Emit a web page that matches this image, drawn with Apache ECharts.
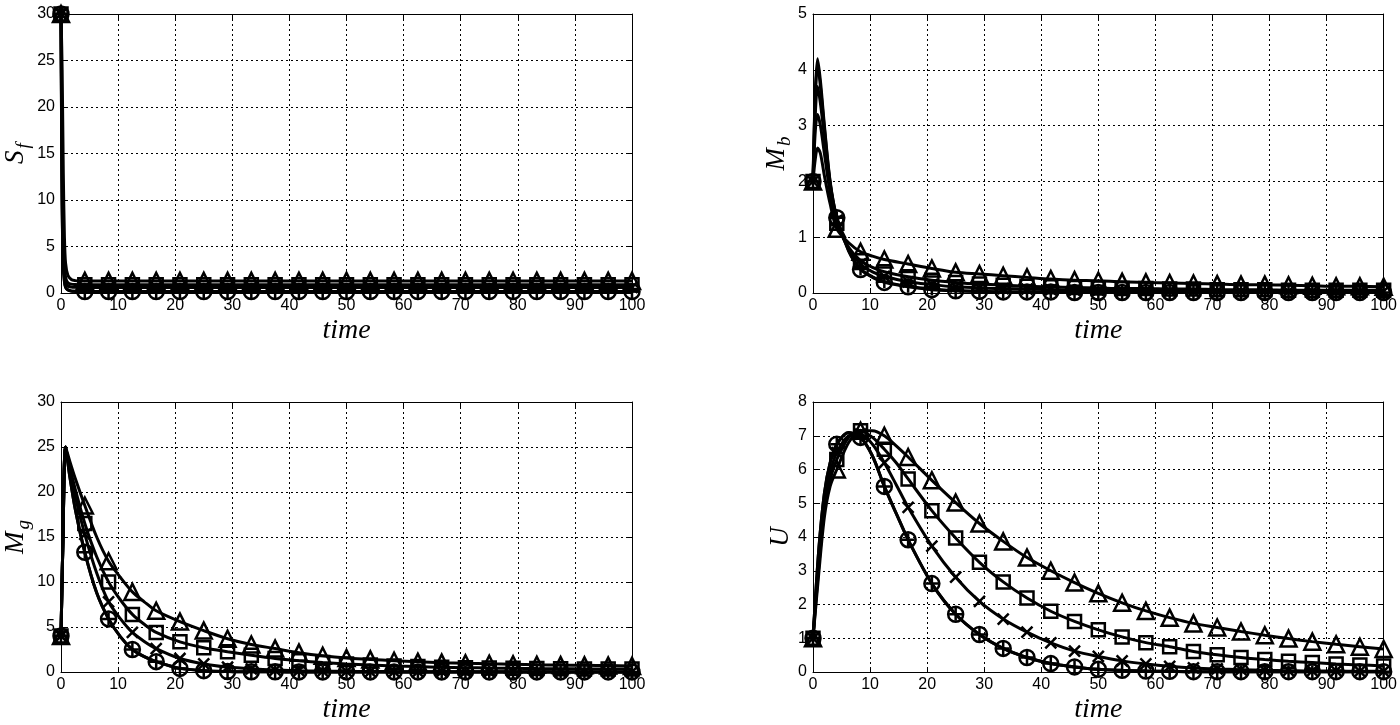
<!DOCTYPE html>
<html><head><meta charset="utf-8">
<script src="https://cdn.jsdelivr.net/npm/echarts@6/dist/echarts.min.js"></script>
<style>html,body{margin:0;padding:0;background:#fff}#c{width:1400px;height:725px}</style>
</head><body><div id="c"></div><script>
// ---------- data ----------
const xTicks = [0, 10, 20, 30, 40, 50, 60, 70, 80, 90, 100];

// S_f panel
const tSf = [0, 0.2, 0.4, 0.6, 0.8, 1.2, 1.8, 2.5, 3.2, 4.17, 8.33, 12.5, 16.67, 20.83, 25, 29.17, 33.33, 37.5, 41.67, 45.83, 50, 54.17, 58.33, 62.5, 66.67, 70.83, 75, 79.17, 83.33, 87.5, 91.67, 95.83, 100];
const sfCircle = [30, 9, 3, 1.2, 0.6, 0.32, 0.2, 0.17, 0.15, 0.15, 0.15, 0.15, 0.15, 0.15, 0.15, 0.15, 0.15, 0.15, 0.15, 0.15, 0.15, 0.15, 0.15, 0.15, 0.15, 0.15, 0.15, 0.15, 0.15, 0.15, 0.15, 0.15, 0.15];
const sfPlus = [30, 9.5, 3.2, 1.3, 0.65, 0.34, 0.21, 0.17, 0.15, 0.15, 0.15, 0.15, 0.15, 0.15, 0.15, 0.15, 0.15, 0.15, 0.15, 0.15, 0.15, 0.15, 0.15, 0.15, 0.15, 0.15, 0.15, 0.15, 0.15, 0.15, 0.15, 0.15, 0.15];
const sfCross = [30, 12, 4.5, 2, 1.1, 0.75, 0.64, 0.61, 0.6, 0.6, 0.6, 0.6, 0.6, 0.6, 0.6, 0.6, 0.6, 0.6, 0.6, 0.6, 0.6, 0.6, 0.6, 0.6, 0.6, 0.6, 0.6, 0.6, 0.6, 0.6, 0.6, 0.6, 0.6];
const sfSquare = [30, 15, 6.5, 3, 1.7, 1.1, 0.95, 0.91, 0.9, 0.9, 0.9, 0.9, 0.9, 0.9, 0.9, 0.9, 0.9, 0.9, 0.9, 0.9, 0.9, 0.9, 0.9, 0.9, 0.9, 0.9, 0.9, 0.9, 0.9, 0.9, 0.9, 0.9, 0.9];
const sfTriangle = [30, 24, 13, 6, 3.2, 1.9, 1.45, 1.33, 1.3, 1.3, 1.3, 1.3, 1.3, 1.3, 1.3, 1.3, 1.3, 1.3, 1.3, 1.3, 1.3, 1.3, 1.3, 1.3, 1.3, 1.3, 1.3, 1.3, 1.3, 1.3, 1.3, 1.3, 1.3];

// M_b panel
const tMb = [0, 0.4, 0.8, 1.3, 2, 3, 4.17, 6.25, 8.33, 10.42, 12.5, 16.67, 20.83, 25, 29.17, 33.33, 37.5, 41.67, 45.83, 50, 54.17, 58.33, 62.5, 66.67, 70.83, 75, 79.17, 83.33, 87.5, 91.67, 95.83, 100];
const mbCircle = [2, 3.6, 4.2, 3.8, 3.0, 2.0, 1.35, 0.75, 0.42, 0.28, 0.19, 0.11, 0.06, 0.04, 0.03, 0.02, 0.02, 0.02, 0.01, 0.01, 0.01, 0.01, 0.01, 0.01, 0.01, 0.01, 0.01, 0.01, 0.01, 0.01, 0.01, 0.01];
const mbPlus = [2, 3.5, 4.1, 3.7, 2.95, 1.98, 1.35, 0.76, 0.43, 0.29, 0.2, 0.12, 0.07, 0.04, 0.03, 0.02, 0.02, 0.02, 0.01, 0.01, 0.01, 0.01, 0.01, 0.01, 0.01, 0.01, 0.01, 0.01, 0.01, 0.01, 0.01, 0.01];
const mbCross = [2, 3.2, 3.7, 3.4, 2.8, 1.95, 1.3, 0.8, 0.52, 0.38, 0.3, 0.2, 0.15, 0.11, 0.09, 0.08, 0.07, 0.06, 0.05, 0.05, 0.04, 0.04, 0.04, 0.03, 0.03, 0.03, 0.03, 0.03, 0.03, 0.03, 0.03, 0.03];
const mbSquare = [2, 2.9, 3.2, 3.0, 2.5, 1.8, 1.25, 0.82, 0.58, 0.46, 0.38, 0.29, 0.23, 0.19, 0.16, 0.14, 0.12, 0.11, 0.1, 0.09, 0.08, 0.08, 0.07, 0.07, 0.06, 0.06, 0.06, 0.05, 0.05, 0.05, 0.05, 0.05];
const mbTriangle = [2, 2.4, 2.6, 2.5, 2.1, 1.6, 1.15, 0.9, 0.74, 0.66, 0.6, 0.52, 0.44, 0.37, 0.34, 0.31, 0.28, 0.25, 0.23, 0.22, 0.2, 0.19, 0.18, 0.17, 0.16, 0.15, 0.15, 0.14, 0.13, 0.12, 0.12, 0.11];

// M_g panel
const tMg = [0, 0.35, 0.8, 1.5, 2.5, 4.17, 6.25, 8.33, 10.42, 12.5, 14.58, 16.67, 20.83, 25, 29.17, 33.33, 37.5, 41.67, 45.83, 50, 54.17, 58.33, 62.5, 66.67, 70.83, 75, 79.17, 83.33, 87.5, 91.67, 95.83, 100];
const mgCircle = [4, 15, 25, 21.9, 18.1, 13.3, 8.8, 5.9, 3.9, 2.5, 1.7, 1.15, 0.4, 0.15, 0.06, 0.03, 0.02, 0.01, 0.01, 0.01, 0.01, 0.01, 0.01, 0.01, 0.01, 0.01, 0.01, 0.01, 0.01, 0.01, 0.01, 0.01];
const mgPlus = [4, 15, 25, 21.9, 18.1, 13.3, 8.8, 5.9, 3.9, 2.5, 1.7, 1.15, 0.4, 0.15, 0.06, 0.03, 0.02, 0.01, 0.01, 0.01, 0.01, 0.01, 0.01, 0.01, 0.01, 0.01, 0.01, 0.01, 0.01, 0.01, 0.01, 0.01];
const mgCross = [4, 15, 25, 22.5, 19.5, 15.3, 11, 7.8, 5.9, 4.4, 3.4, 2.6, 1.5, 0.9, 0.55, 0.35, 0.22, 0.15, 0.1, 0.07, 0.05, 0.04, 0.03, 0.03, 0.02, 0.02, 0.02, 0.02, 0.01, 0.01, 0.01, 0.01];
const mgSquare = [4, 15, 25, 22.9, 20.3, 16.5, 12.8, 10.0, 8.0, 6.4, 5.3, 4.4, 3.35, 2.7, 2.25, 1.85, 1.5, 1.25, 1.05, 0.9, 0.78, 0.68, 0.6, 0.53, 0.48, 0.44, 0.41, 0.38, 0.36, 0.34, 0.33, 0.32];
const mgTriangle = [4, 15, 25, 23.5, 21.5, 18.5, 15, 12.3, 10.5, 8.9, 7.8, 6.8, 5.6, 4.6, 3.7, 3.05, 2.6, 2.15, 1.8, 1.55, 1.4, 1.25, 1.13, 1.04, 0.97, 0.91, 0.86, 0.81, 0.77, 0.74, 0.71, 0.68];

// U panel
const tU = [0, 1, 2, 3, 4.17, 6.25, 8.33, 10.42, 12.5, 14.58, 16.67, 20.83, 25, 29.17, 33.33, 37.5, 41.67, 45.83, 50, 54.17, 58.33, 62.5, 66.67, 70.83, 75, 79.17, 83.33, 87.5, 91.67, 95.83, 100];
const uCircle = [1, 3.6, 5.3, 6.2, 6.75, 7.1, 6.95, 6.4, 5.5, 4.7, 3.92, 2.62, 1.71, 1.11, 0.7, 0.43, 0.25, 0.15, 0.08, 0.05, 0.03, 0.02, 0.01, 0.01, 0.01, 0.01, 0.01, 0.01, 0.01, 0.01, 0.01];
const uPlus = [1, 3.6, 5.3, 6.2, 6.75, 7.1, 6.95, 6.4, 5.5, 4.7, 3.92, 2.62, 1.71, 1.11, 0.7, 0.43, 0.25, 0.15, 0.08, 0.05, 0.03, 0.02, 0.01, 0.01, 0.01, 0.01, 0.01, 0.01, 0.01, 0.01, 0.01];
const uCross = [1, 3.3, 5.0, 5.9, 6.5, 7.0, 7.05, 6.75, 6.2, 5.55, 4.88, 3.73, 2.81, 2.09, 1.57, 1.18, 0.86, 0.62, 0.46, 0.33, 0.24, 0.17, 0.12, 0.09, 0.07, 0.05, 0.04, 0.03, 0.03, 0.02, 0.02];
const uSquare = [1, 3.1, 4.8, 5.7, 6.3, 6.95, 7.15, 6.95, 6.6, 6.2, 5.72, 4.78, 3.97, 3.25, 2.67, 2.19, 1.8, 1.5, 1.25, 1.04, 0.87, 0.75, 0.61, 0.51, 0.43, 0.37, 0.32, 0.28, 0.24, 0.21, 0.18];
const uTriangle = [1, 2.9, 4.6, 5.5, 6.0, 6.8, 7.15, 7.15, 7.0, 6.7, 6.37, 5.68, 5.02, 4.4, 3.87, 3.39, 3.0, 2.65, 2.33, 2.05, 1.81, 1.61, 1.44, 1.32, 1.2, 1.09, 0.99, 0.9, 0.82, 0.75, 0.68];

// ---------- styling / building ----------
const MARK_STEP = 100 / 24;
function isMark(t) { const k = t / MARK_STEP; return Math.abs(k - Math.round(k)) < 0.01; }

const markers = [
  { symbol: 'circle', size: 15 },
  { symbol: 'path://M5,0L5,10M0,5L10,5', size: 13 },
  { symbol: 'path://M0,0L10,10M10,0L0,10', size: 11 },
  { symbol: 'rect', size: 13 },
  { symbol: 'triangle', size: 16 }
];

const SERIF = 'Liberation Serif';
const SANS = 'Liberation Sans';

const panels = [
  { t: tSf, ys: [sfCircle, sfPlus, sfCross, sfSquare, sfTriangle], ymax: 30, yint: 5,
    name: '{m|S}{s|f}', grid: { left: 61, top: 14, width: 571, height: 279 }, gap: 26 },
  { t: tMb, ys: [mbCircle, mbPlus, mbCross, mbSquare, mbTriangle], ymax: 5, yint: 1,
    name: '{m|M}{s|b}', grid: { left: 813, top: 14, width: 572, height: 279 }, gap: 17 },
  { t: tMg, ys: [mgCircle, mgPlus, mgCross, mgSquare, mgTriangle], ymax: 30, yint: 5,
    name: '{m|M}{s|g}', grid: { left: 61, top: 402, width: 571, height: 278 }, gap: 26 },
  { t: tU, ys: [uCircle, uPlus, uCross, uSquare, uTriangle], ymax: 8, yint: 1,
    name: '{m|U}', grid: { left: 813, top: 402, width: 572, height: 278 }, gap: 17 }
];

const grids = [], xAxes = [], yAxes = [], series = [];
const black = '#000';
panels.forEach((p, i) => {
  grids.push(Object.assign({ containLabel: false }, p.grid));
  xAxes.push({
    type: 'value', gridIndex: i, min: 0, max: 100, interval: 10, position: 'bottom',
    axisLine: { show: true, onZero: false, lineStyle: { color: black, width: 1 } },
    axisTick: { show: true, inside: true, length: 5, lineStyle: { color: black } },
    axisLabel: { color: black, fontSize: 16, fontFamily: SANS, margin: 5,
      formatter: v => xTicks.includes(v) ? String(v) : '' },
    splitLine: { show: true, lineStyle: { color: black, type: [2, 3], width: 1 } },
    name: 'time', nameLocation: 'middle', nameGap: 24,
    nameTextStyle: { fontFamily: SERIF, fontStyle: 'italic', fontSize: 28, color: black }
  });
  xAxes.push({
    type: 'value', gridIndex: i, min: 0, max: 100, interval: 10, position: 'top',
    axisLine: { show: true, onZero: false, lineStyle: { color: black, width: 1 } },
    axisTick: { show: true, inside: true, length: 5, lineStyle: { color: black } },
    axisLabel: { show: false }, splitLine: { show: false }
  });
  yAxes.push({
    type: 'value', gridIndex: i, min: 0, max: p.ymax, interval: p.yint, position: 'left',
    axisLine: { show: true, onZero: false, lineStyle: { color: black, width: 1 } },
    axisTick: { show: true, inside: true, length: 5, lineStyle: { color: black } },
    axisLabel: { color: black, fontSize: 16, fontFamily: SANS, margin: 6 },
    splitLine: { show: true, lineStyle: { color: black, type: [2, 3], width: 1 } },
    name: p.name, nameLocation: 'middle', nameRotate: 90, nameGap: p.gap,
    nameTextStyle: {
      color: black,
      rich: {
        m: { fontFamily: SERIF, fontStyle: 'italic', fontSize: 27, color: black, verticalAlign: 'top', lineHeight: 27 },
        s: { fontFamily: SERIF, fontStyle: 'italic', fontSize: 19, color: black, verticalAlign: 'top', lineHeight: 19, padding: [12, 0, 0, 2] }
      }
    }
  });
  yAxes.push({
    type: 'value', gridIndex: i, min: 0, max: p.ymax, interval: p.yint, position: 'right',
    axisLine: { show: true, onZero: false, lineStyle: { color: black, width: 1 } },
    axisTick: { show: true, inside: true, length: 5, lineStyle: { color: black } },
    axisLabel: { show: false }, splitLine: { show: false }
  });
  p.ys.forEach((vals, k) => {
    const mk = markers[k];
    series.push({
      type: 'line', xAxisIndex: 2 * i, yAxisIndex: 2 * i,
      smooth: 0.3, clip: false, showAllSymbol: true, silent: true,
      data: p.t.map((tt, j) => ({ value: [tt, vals[j]], symbol: isMark(tt) ? mk.symbol : 'none', symbolSize: mk.size })),
      lineStyle: { color: black, width: 3 },
      itemStyle: { color: 'rgba(0,0,0,0)', borderColor: black, borderWidth: 2.5 },
      emphasis: { disabled: true }
    });
  });
});

const chart = echarts.init(document.getElementById('c'), null, { renderer: 'canvas' });
chart.setOption({
  animation: false,
  backgroundColor: '#fff',
  grid: grids, xAxis: xAxes, yAxis: yAxes, series: series
});
</script></body></html>
